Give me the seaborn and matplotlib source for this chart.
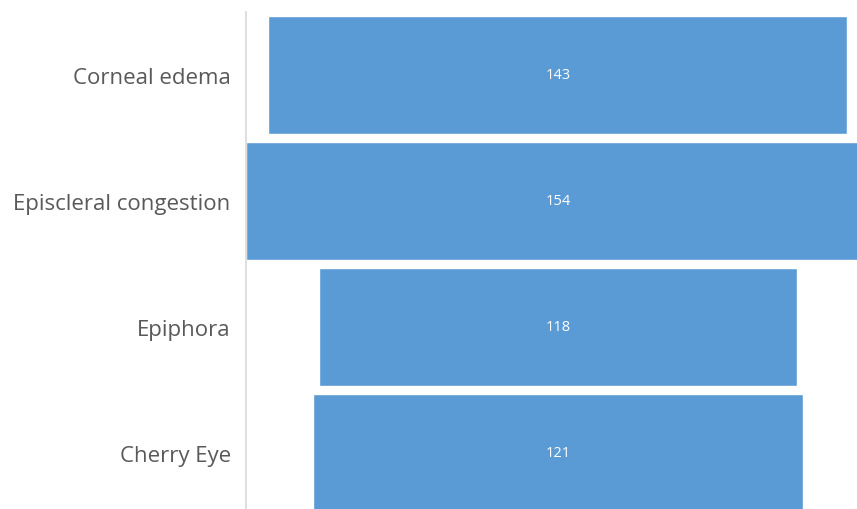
import matplotlib
matplotlib.use("Agg")
import matplotlib.pyplot as plt
import seaborn as sns
import pandas as pd

categories = ["Corneal edema", "Episcleral congestion", "Epiphora", "Cherry Eye"]
values = [143, 154, 118, 121]

df = pd.DataFrame({"category": categories, "value": values})

sns.set_theme(style="white")
plt.rcParams["font.family"] = ["Open Sans", "DejaVu Sans"]

fig = plt.figure(figsize=(8.57, 5.10), dpi=100)
W, H = 857, 510
vmax = max(values)
px_per_unit = 4.05
left_px = 246
top_px = 13
step_px = 126
n = len(categories)
ax_w = vmax * px_per_unit
ax_h = n * step_px
ax = fig.add_axes([left_px / W, 1 - (top_px + ax_h) / H, ax_w / W, ax_h / H])

sns.barplot(data=df, y="category", x="value", orient="h", color="#5B9BD5",
            saturation=1, width=0.93, ax=ax)

for patch, v in zip(ax.patches, values):
    patch.set_x((vmax - v) / 2)
    ax.text(vmax / 2, patch.get_y() + patch.get_height() / 2, str(v),
            ha="center", va="center", color="white", fontsize=10.5)

ax.set_xlim(0, vmax)
ax.set_ylim(n - 0.5, -0.5)
ax.set_xlabel("")
ax.set_ylabel("")
ax.set_xticks([])
ax.tick_params(axis="y", length=0, pad=11, labelsize=16, labelcolor="#595959")
for s in ["top", "right", "bottom"]:
    ax.spines[s].set_visible(False)
ax.spines["left"].set_color("#D9D9D9")
ax.spines["left"].set_linewidth(1.2)

fig.savefig("out.png", dpi=100)
